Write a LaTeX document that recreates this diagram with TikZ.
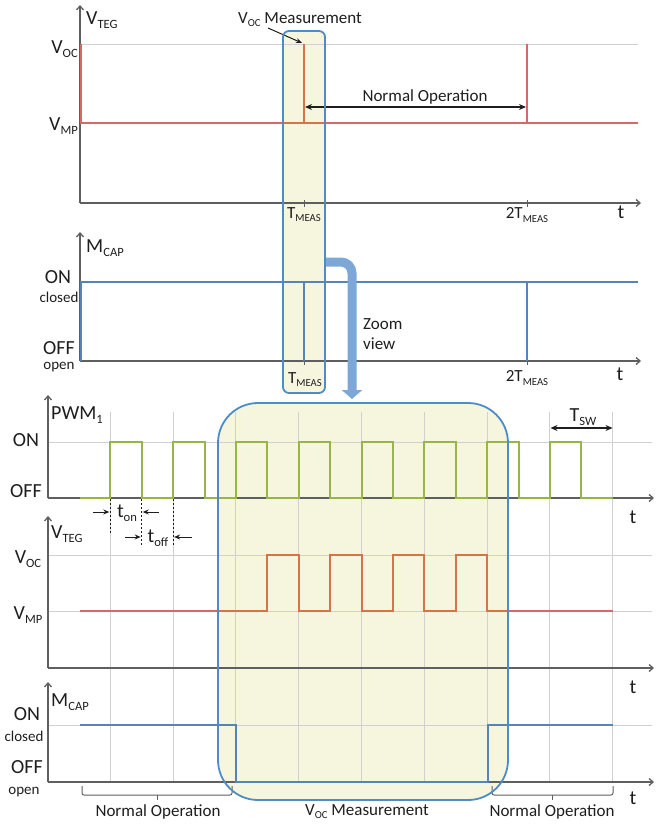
\documentclass[tikz,border=0pt]{standalone}
\usepackage{fontspec}
\setmainfont{Carlito}
\usetikzlibrary{arrows.meta}
\definecolor{axisgray}{RGB}{95,95,95}
\definecolor{gridgray}{RGB}{208,208,208}
\definecolor{boxfill}{RGB}{246,245,221}
\definecolor{boxline}{RGB}{78,140,200}
\definecolor{zoomblue}{RGB}{125,167,214}
\definecolor{wavered}{RGB}{214,104,104}
\definecolor{waveorange}{RGB}{212,116,72}
\definecolor{waveblue}{RGB}{84,132,184}
\definecolor{wavegreen}{RGB}{150,182,70}
\definecolor{txt}{RGB}{30,30,30}
\newcommand{\lowsub}[1]{\raisebox{-0.18em}{\scalebox{0.63}{#1}}}
\begin{document}
\begin{tikzpicture}[x=1pt,y=-1pt,
  lbl/.style={font=\fontsize{20}{24}\selectfont, text=txt, inner sep=0pt},
  lblm/.style={font=\fontsize{17}{20}\selectfont, text=txt, inner sep=0pt},
  lbls/.style={font=\fontsize{15}{18}\selectfont, text=txt, inner sep=0pt},
  axis/.style={draw=axisgray, line width=1.3pt, -{Straight Barb[length=4pt,width=7pt]}},
  gridl/.style={draw=gridgray, line width=0.9pt},
  wave/.style={line width=2pt, line join=miter},
  thinwave/.style={line width=1.5pt},
  tick/.style={draw=axisgray, line width=1pt},
  dimarrow/.style={draw=txt, line width=1.1pt, {Stealth[length=7pt,width=6pt]}-{Stealth[length=7pt,width=6pt]}},
  onearrow/.style={draw=txt, line width=1pt, -{Stealth[length=6pt,width=5pt]}},
  dimdash/.style={draw=txt, line width=0.9pt, dash pattern=on 2pt off 2pt},
  bracket/.style={draw=axisgray, line width=1pt, rounded corners=2pt},
  boxborder/.style={draw=boxline, line width=1.8pt},
]
\useasboundingbox (0,0) rectangle (655,826);

% ---------- background highlight boxes ----------
\fill[boxfill, rounded corners=6pt] (283,31) rectangle (325,393);
\fill[boxfill, rounded corners=40pt] (218,403) rectangle (508,800);

% ---------- grid lines ----------
\draw[gridl] (80,44) -- (638,44);
\foreach \gx in {110.3,173.1,235.9,298.7,361.5,424.3,487.1,549.9,612.7}
  \draw[gridl] (\gx,412) -- (\gx,782);
\draw[gridl] (48,442) -- (652,442);
\draw[gridl] (48,555) -- (652,555);
\draw[gridl] (48,611) -- (652,611);
\draw[gridl] (48,725) -- (652,725);

% ---------- axes ----------
\draw[axis] (80,203) -- (80,5);
\draw[axis] (80,203) -- (641,203);
\draw[axis] (80,361) -- (80,232);
\draw[axis] (80,361) -- (641,361);
\draw[axis] (48,498) -- (48,395);
\draw[axis] (48,498) -- (654,498);
\draw[axis] (48,668) -- (48,516);
\draw[axis] (48,668) -- (654,668);
\draw[axis] (48,782) -- (48,682);
\draw[axis] (48,782) -- (654,782);

\draw[tick] (304,200) -- (304,207);
\draw[tick] (527,200) -- (527,207);
\draw[tick] (304,358) -- (304,365);
\draw[tick] (527,358) -- (527,365);

% ---------- top panel: V_TEG ----------
\draw[wave, wavered] (81,44) -- (81,123) -- (283,123);
\draw[wave, waveorange] (283,123) -- (325,123);
\draw[wave, waveorange] (304,123) -- (304,44);
\draw[wave, wavered] (325,123) -- (638,123);
\draw[wave, wavered] (527,44) -- (527,123);

\node[lbl, anchor=west] (vteg1) at (86,20) {V\lowsub{TEG}};
\node[lbl, anchor=east] (voc1) at (78,49) {V\lowsub{OC}};
\node[lbl, anchor=east] (vmp1) at (78,126) {V\lowsub{MP}};
\node[lblm, anchor=west] (vocm) at (238,20) {V\lowsub{OC} Measurement};
\coordinate (vocA) at (268,28);
\coordinate (vocpeak) at (302,43);
\draw[onearrow] (vocA) -- (vocpeak);
\node[lblm] (normop1) at (425,97) {Normal Operation};
\coordinate (noL) at (305,107);
\coordinate (noR) at (526,107);
\draw[dimarrow] (noL) -- (noR);
\node[lblm] (tmeas1) at (304,215) {T\lowsub{MEAS}};
\node[lblm] (ttmeas1) at (527,215) {2T\lowsub{MEAS}};
\node[lbl] (t1) at (621,212) {t};

% ---------- middle panel: M_CAP ----------
\draw[wave, waveblue] (81,361) -- (81,282) -- (638,282);
\draw[thinwave, waveblue] (304,282) -- (304,361);
\draw[thinwave, waveblue] (527,282) -- (527,361);

\node[lbl, anchor=west] (mcap1) at (86,248) {M\lowsub{CAP}};
\node[lbl] (on1) at (58,277) {ON};
\node[lbls] (closed1) at (59,297) {closed};
\node[lbl] (off1) at (59,348) {OFF};
\node[lbls] (open1) at (59,367) {open};
\node[lblm] (tmeas2) at (305,380) {T\lowsub{MEAS}};
\node[lblm] (ttmeas2) at (527,378) {2T\lowsub{MEAS}};
\node[lbl] (t2) at (620,374) {t};
\node[lblm, anchor=west] (zoom) at (363,324) {Zoom};
\node[lblm, anchor=west] (view) at (363,344) {view};

% zoom arrow
\coordinate (zA) at (325,262);
\coordinate (zB) at (352,262);
\coordinate (zC) at (352,399);
\draw[line width=9pt, zoomblue, rounded corners=11pt, -{Triangle[length=9pt,width=20pt]}] (zA) -- (zB) -- (zC);

% ---------- PWM panel ----------
\draw[wave, wavegreen] (80,498)
  \foreach \k in {0,...,7} { -- ({110.3+62.8*\k},498) -- ({110.3+62.8*\k},442) -- ({141.7+62.8*\k},442) -- ({141.7+62.8*\k},498) }
  -- (612.7,498);

\node[lbl, anchor=west] (pwm) at (51,415) {PWM\lowsub{1}};
\node[lbl] (on2) at (26,440) {ON};
\node[lbl] (off2) at (26,491) {OFF};
\node[lbl] (t3) at (633,517) {t};
\node[lbl] (tsw) at (583,417) {T\lowsub{SW}};
\coordinate (swL) at (550.5,428);
\coordinate (swR) at (612.5,428);
\draw[dimarrow] (swL) -- (swR);

\draw[dimdash] (110.3,499) -- (110.3,534);
\draw[dimdash] (141.7,499) -- (141.7,545);
\draw[dimdash] (173.1,499) -- (173.1,545);
\node[lbl] (ton) at (127,513) {t\lowsub{on}};
\coordinate (tonA) at (93,512);
\coordinate (tonB) at (109.3,512);
\coordinate (tonC) at (159,512);
\coordinate (tonD) at (142.7,512);
\draw[onearrow] (tonA) -- (tonB);
\draw[onearrow] (tonC) -- (tonD);
\node[lbl] (toff) at (158,538) {t\lowsub{off}};
\coordinate (toffA) at (125,537);
\coordinate (toffB) at (140.7,537);
\coordinate (toffC) at (192,537);
\coordinate (toffD) at (174.1,537);
\draw[onearrow] (toffA) -- (toffB);
\draw[onearrow] (toffC) -- (toffD);

% ---------- lower V_TEG panel ----------
\draw[wave, wavered] (80,611) -- (218,611);
\draw[wave, waveorange] (218,611)
  \foreach \k in {2,...,5} { -- ({141.7+62.8*\k},611) -- ({141.7+62.8*\k},555) -- ({173.1+62.8*\k},555) -- ({173.1+62.8*\k},611) }
  -- (508,611);
\draw[wave, wavered] (508,611) -- (612.7,611);

\node[lbl, anchor=west] (vteg2) at (51,534) {V\lowsub{TEG}};
\node[lbl] (voc2) at (28,559) {V\lowsub{OC}};
\node[lbl] (vmp2) at (28,615) {V\lowsub{MP}};
\node[lbl] (t4) at (633,687) {t};

% ---------- lower M_CAP panel ----------
\draw[wave, waveblue] (80,725) -- (235.9,725) -- (235.9,782) -- (487.6,782) -- (487.6,725) -- (612.7,725);

\node[lbl, anchor=west] (mcap2) at (51,702) {M\lowsub{CAP}};
\node[lbl] (on3) at (27,714) {ON};
\node[lbls] (closed3) at (24,736) {closed};
\node[lbl] (off3) at (27,767) {OFF};
\node[lbls] (open3) at (24,792) {open};
\node[lbl] (t5) at (633,798) {t};

% brackets
\draw[bracket] (82,786) -- (82,795) -- (232,795) -- (232,786);
\draw[bracket] (157,795) -- (157,800);
\draw[bracket] (492,786) -- (492,795) -- (613,795) -- (613,786);
\draw[bracket] (552.5,795) -- (552.5,800);
\node[lblm] (normop2) at (158,812) {Normal Operation};
\node[lblm] (vocmeas) at (367,812) {V\lowsub{OC} Measurement};
\node[lblm] (normop3) at (552,812) {Normal Operation};

% ---------- highlight borders ----------
\draw[boxborder, rounded corners=6pt] (283,31) rectangle (325,393);
\draw[boxborder, rounded corners=40pt] (218,403) rectangle (508,800);
\end{tikzpicture}
\end{document}
